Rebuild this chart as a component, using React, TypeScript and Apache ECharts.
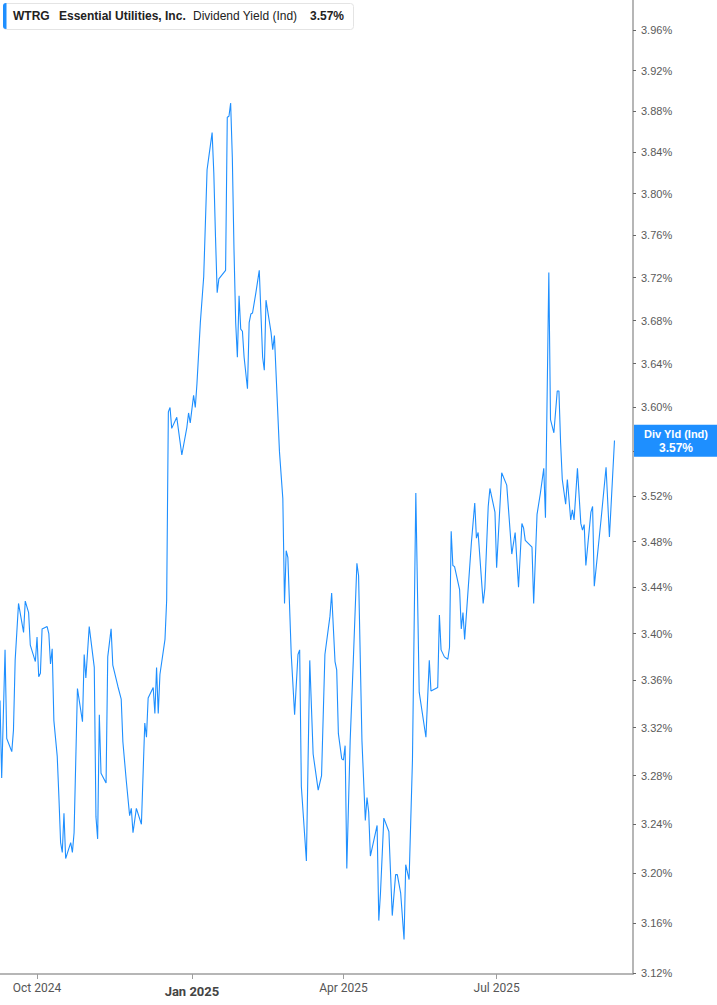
import React, { useEffect, useRef } from 'react';
import * as echarts from 'echarts';

// ---- Data ----
const dates = [
  '2024-09-09','2024-09-10','2024-09-12','2024-09-13','2024-09-16','2024-09-17','2024-09-18','2024-09-20','2024-09-23','2024-09-24',
  '2024-09-26','2024-09-27','2024-09-30','2024-10-01','2024-10-02','2024-10-03','2024-10-04','2024-10-07','2024-10-08','2024-10-09',
  '2024-10-10','2024-10-11','2024-10-13','2024-10-14','2024-10-15','2024-10-16','2024-10-17','2024-10-18','2024-10-21','2024-10-22',
  '2024-10-23','2024-10-25','2024-10-28','2024-10-29','2024-10-30','2024-11-01','2024-11-04','2024-11-05','2024-11-06','2024-11-07',
  '2024-11-08','2024-11-11','2024-11-12','2024-11-14','2024-11-15','2024-11-18','2024-11-20','2024-11-21','2024-11-23','2024-11-25',
  '2024-11-26','2024-11-27','2024-11-29','2024-12-02','2024-12-04','2024-12-05','2024-12-06','2024-12-09','2024-12-10','2024-12-11',
  '2024-12-12','2024-12-13','2024-12-16','2024-12-17','2024-12-18','2024-12-19','2024-12-20','2024-12-23','2024-12-26','2024-12-29',
  '2024-12-30','2024-12-31','2025-01-02','2025-01-03','2025-01-04','2025-01-06','2025-01-08','2025-01-10','2025-01-11','2025-01-13',
  '2025-01-14','2025-01-15','2025-01-16','2025-01-17','2025-01-21','2025-01-22','2025-01-23','2025-01-24','2025-01-25','2025-01-26',
  '2025-01-27','2025-01-28','2025-01-29','2025-01-30','2025-01-31','2025-02-01','2025-02-03','2025-02-04','2025-02-05','2025-02-06',
  '2025-02-08','2025-02-10','2025-02-12','2025-02-13','2025-02-14','2025-02-17','2025-02-18','2025-02-19','2025-02-22','2025-02-24',
  '2025-02-25','2025-02-26','2025-02-27','2025-03-01','2025-03-03','2025-03-05','2025-03-06','2025-03-07','2025-03-10','2025-03-12',
  '2025-03-14','2025-03-17','2025-03-19','2025-03-21','2025-03-24','2025-03-25','2025-03-27','2025-03-28','2025-03-29','2025-03-31',
  '2025-04-01','2025-04-02','2025-04-03','2025-04-05','2025-04-07','2025-04-09','2025-04-10','2025-04-12','2025-04-14','2025-04-15',
  '2025-04-16','2025-04-17','2025-04-21','2025-04-22','2025-04-23','2025-04-25','2025-04-28','2025-04-30','2025-05-02','2025-05-03',
  '2025-05-05','2025-05-07','2025-05-08','2025-05-10','2025-05-12','2025-05-14','2025-05-16','2025-05-20','2025-05-22','2025-05-23',
  '2025-05-27','2025-05-28','2025-05-29','2025-05-31','2025-06-02','2025-06-03','2025-06-04','2025-06-05','2025-06-06','2025-06-09',
  '2025-06-10','2025-06-11','2025-06-12','2025-06-16','2025-06-18','2025-06-19','2025-06-20','2025-06-23','2025-06-24','2025-06-26',
  '2025-06-27','2025-06-30','2025-07-01','2025-07-04','2025-07-07','2025-07-10','2025-07-12','2025-07-14','2025-07-16','2025-07-17',
  '2025-07-18','2025-07-22','2025-07-23','2025-07-25','2025-07-27','2025-07-29','2025-07-30','2025-08-01','2025-08-02','2025-08-04',
  '2025-08-06','2025-08-07','2025-08-08','2025-08-09','2025-08-11','2025-08-12','2025-08-14','2025-08-15','2025-08-16','2025-08-18',
  '2025-08-20','2025-08-21','2025-08-22','2025-08-23','2025-08-26','2025-08-27','2025-08-28','2025-09-01','2025-09-04','2025-09-06',
  '2025-09-09',
];

const yields = [
  3.343, 3.278, 3.386, 3.311, 3.300, 3.318, 3.377, 3.426, 3.401, 3.428,
  3.418, 3.390, 3.376, 3.397, 3.363, 3.366, 3.404, 3.406, 3.400, 3.374,
  3.387, 3.326, 3.296, 3.262, 3.225, 3.217, 3.249, 3.212, 3.225, 3.217,
  3.233, 3.353, 3.325, 3.382, 3.362, 3.406, 3.371, 3.246, 3.228, 3.331,
  3.282, 3.274, 3.380, 3.404, 3.373, 3.355, 3.344, 3.308, 3.276, 3.247,
  3.253, 3.233, 3.253, 3.240, 3.324, 3.312, 3.345, 3.354, 3.332, 3.371,
  3.332, 3.365, 3.395, 3.429, 3.596, 3.600, 3.581, 3.591, 3.557, 3.582,
  3.595, 3.586, 3.611, 3.600, 3.622, 3.678, 3.721, 3.823, 3.835, 3.859,
  3.820, 3.759, 3.706, 3.719, 3.727, 3.874, 3.875, 3.888, 3.835, 3.746,
  3.678, 3.646, 3.703, 3.672, 3.670, 3.646, 3.617, 3.678, 3.686, 3.687,
  3.706, 3.727, 3.646, 3.634, 3.699, 3.669, 3.653, 3.666, 3.560, 3.518,
  3.426, 3.472, 3.466, 3.382, 3.331, 3.382, 3.386, 3.271, 3.210, 3.377,
  3.298, 3.268, 3.280, 3.382, 3.415, 3.435, 3.376, 3.369, 3.315, 3.294,
  3.293, 3.305, 3.204, 3.309, 3.382, 3.461, 3.450, 3.309, 3.243, 3.262,
  3.250, 3.214, 3.239, 3.162, 3.184, 3.245, 3.234, 3.166, 3.199, 3.199,
  3.184, 3.147, 3.207, 3.195, 3.293, 3.523, 3.350, 3.312, 3.377, 3.351,
  3.354, 3.416, 3.386, 3.380, 3.378, 3.388, 3.489, 3.459, 3.458, 3.438,
  3.404, 3.418, 3.395, 3.479, 3.514, 3.483, 3.488, 3.426, 3.439, 3.511,
  3.527, 3.506, 3.457, 3.541, 3.530, 3.469, 3.488, 3.440, 3.496, 3.492,
  3.481, 3.475, 3.426, 3.504, 3.523, 3.545, 3.501, 3.725, 3.589, 3.577,
  3.615, 3.615, 3.568, 3.535, 3.513, 3.535, 3.499, 3.508, 3.499, 3.545,
  3.496, 3.490, 3.495, 3.459, 3.506, 3.511, 3.441, 3.499, 3.546, 3.484,
  3.570,
];

const yTickLabels = [3.12, 3.16, 3.2, 3.24, 3.28, 3.32, 3.36, 3.4, 3.44, 3.48, 3.52,
  3.56, 3.6, 3.64, 3.68, 3.72, 3.76, 3.8, 3.84, 3.88, 3.92, 3.96];
const xTickDates = ['2024-10-01', '2025-01-01', '2025-04-01', '2025-07-01'];
const xRange = ['2024-09-09', '2025-09-20'];
const yRange = [3.1196, 3.9906];

const ticker = 'WTRG';
const company = 'Essential Utilities, Inc.';
const metric = 'Dividend Yield (Ind)';
const shortMetric = 'Div Yld (Ind)';

const MONTHS = ['Jan', 'Feb', 'Mar', 'Apr', 'May', 'Jun', 'Jul', 'Aug', 'Sep', 'Oct', 'Nov', 'Dec'];
const BLUE = '#1E8FFF';
const FONT = "'Liberation Sans', Arial, sans-serif";
const NARROW = "'Liberation Sans Narrow', 'Roboto', sans-serif";

function ts(s: string): number {
  const [y, m, d] = s.split('-').map(Number);
  return new Date(y, m - 1, d).getTime();
}

export default function App() {
  const ref = useRef<HTMLDivElement>(null);

  useEffect(() => {
    if (!ref.current) return;
    const chart = echarts.init(ref.current, undefined, { renderer: 'svg' });
    const last = yields[yields.length - 1];
    const lastStr = last.toFixed(2) + '%';

    const option: any = {
      animation: false,
      backgroundColor: '#ffffff',
      grid: { left: 0, right: 84, top: 0, bottom: 31, containLabel: false },
      xAxis: {
        type: 'value',
        min: ts(xRange[0]),
        max: ts(xRange[1]),
        splitLine: { show: false },
        axisLine: { show: true, onZero: false, lineStyle: { color: '#9e9e9e', width: 1.5 } },
        axisTick: {
          show: true, length: 5, customValues: xTickDates.map(ts),
          lineStyle: { color: '#9e9e9e', width: 1 },
        },
        axisLabel: {
          customValues: xTickDates.map(ts),
          margin: 8,
          formatter: (v: number) => {
            const d = new Date(v);
            const s = MONTHS[d.getMonth()] + ' ' + d.getFullYear();
            return d.getMonth() === 0 ? '{b|' + s + '}' : '{n|' + s + '}';
          },
          rich: {
            n: { fontSize: 12, color: '#555555', fontFamily: NARROW },
            b: { fontSize: 13, fontWeight: 'bold', color: '#444444', fontFamily: NARROW, padding: [3, 0, 0, 0] },
          },
        },
      },
      yAxis: {
        type: 'value',
        position: 'right',
        min: Math.log(yRange[0]),
        max: Math.log(yRange[1]),
        splitLine: { show: false },
        axisLine: { show: true, lineStyle: { color: '#9e9e9e', width: 1.5 } },
        axisTick: {
          show: true, length: 3, customValues: yTickLabels.map(Math.log),
          lineStyle: { color: '#666666', width: 1 },
        },
        axisLabel: {
          customValues: yTickLabels.map(Math.log),
          margin: 8,
          color: '#5a5a5a',
          fontSize: 11,
          fontFamily: FONT,
          formatter: (v: number) => Math.exp(v).toFixed(2) + '%',
        },
      },
      series: [
        {
          type: 'line',
          data: dates.map((d, i) => [ts(d), Math.log(yields[i])]),
          showSymbol: false,
          symbol: 'none',
          lineStyle: { color: BLUE, width: 1.1 },
          itemStyle: { color: BLUE },
          silent: true,
          clip: false,
          markLine: {
            silent: true,
            symbol: ['none', 'none'],
            lineStyle: { color: 'rgba(0,0,0,0)', width: 0, type: 'solid' },
            data: [{ yAxis: Math.log(last) }],
            label: {
              show: true,
              position: 'end',
              distance: 1,
              offset: [0, -10],
              opacity: 1,
              backgroundColor: BLUE,
              padding: [3, 6, 2, 6],
              formatter: '{t|' + shortMetric + '}\n{v|' + lastStr + '}',
              rich: {
                t: { color: '#ffffff', fontWeight: 'bold', fontSize: 11, fontFamily: FONT, width: 72, align: 'center', lineHeight: 13 },
                v: { color: '#ffffff', fontWeight: 'bold', fontSize: 12, fontFamily: FONT, width: 72, align: 'center', lineHeight: 14 },
              },
            },
          },
        },
      ],
      graphic: [
        {
          type: 'rect', left: 3, top: 3, z: 10,
          shape: { width: 350, height: 26, r: 3 },
          style: { fill: '#ffffff', stroke: '#e4e4e4', lineWidth: 1 },
        },
        {
          type: 'rect', left: 3, top: 3, z: 11,
          shape: { width: 3.5, height: 26, r: [3, 0, 0, 3] },
          style: { fill: BLUE },
        },
        { type: 'text', left: 13, top: 10, z: 11, style: { text: ticker, font: 'bold 12px ' + FONT, fill: '#222222' } },
        { type: 'text', left: 59, top: 10, z: 11, style: { text: company, font: 'bold 12px ' + FONT, fill: '#222222' } },
        { type: 'text', left: 193, top: 10, z: 11, style: { text: metric, font: '12px ' + FONT, fill: '#222222' } },
        { type: 'text', left: 310, top: 10, z: 11, style: { text: lastStr, font: 'bold 12px ' + FONT, fill: '#222222' } },
      ],
    };

    chart.setOption(option);
    return () => chart.dispose();
  }, []);

  return (
    <div
      ref={ref}
      style={{ position: 'fixed', left: 0, top: 0, width: 717, height: 1005, background: '#fff' }}
    />
  );
}
